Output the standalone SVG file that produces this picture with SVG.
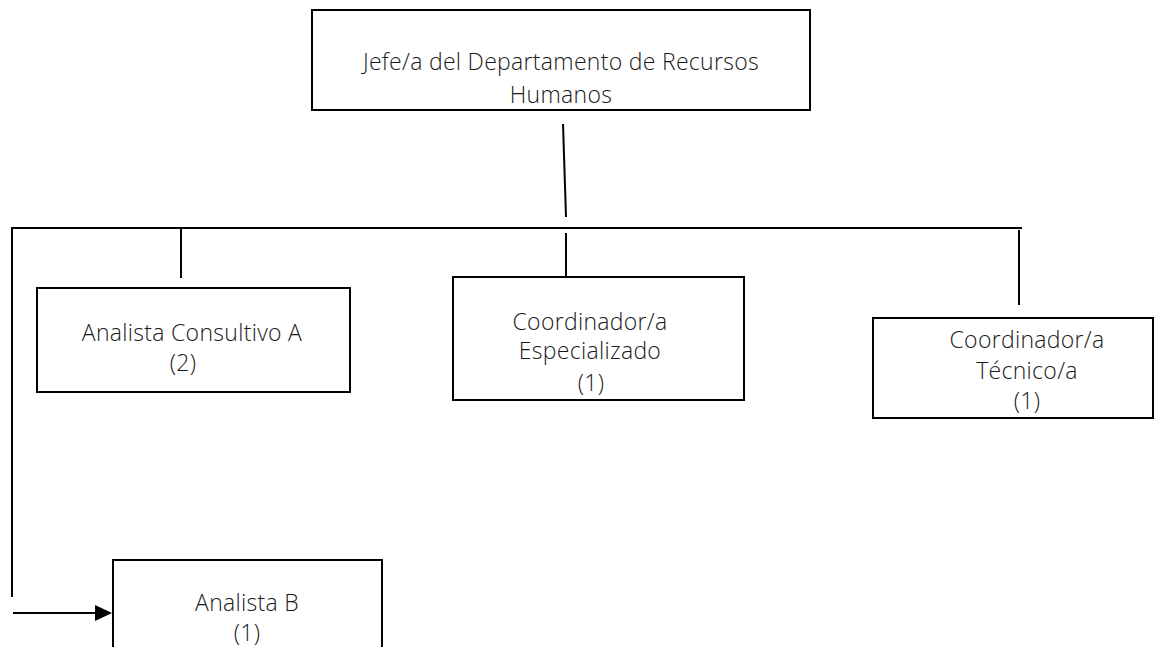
<svg xmlns="http://www.w3.org/2000/svg" width="1154" height="647" viewBox="0 0 1154 647">
<style>
.box{fill:#fff;stroke:#000;stroke-width:2}
.ln{stroke:#000;stroke-width:2;fill:none}
text{font-family:"Open Sans","Noto Sans",sans-serif;font-size:23px;letter-spacing:0.3px;font-weight:300;fill:#1a1a1a;text-anchor:middle}
</style>
<rect width="1154" height="647" fill="#fff"/>
<g id="connectors">
<line class="ln" x1="563" y1="124" x2="566" y2="217"/>
<line class="ln" x1="11" y1="228" x2="1022" y2="228"/>
<line class="ln" x1="12" y1="227" x2="12" y2="597"/>
<line class="ln" x1="181" y1="228" x2="181" y2="278"/>
<line class="ln" x1="566" y1="233" x2="566" y2="280"/>
<line class="ln" x1="1019" y1="230" x2="1019" y2="305"/>
<path d="M13,613 L96,613" class="ln"/>
<path d="M95,605 L112,613 L95,621 z" fill="#000"/>
</g>
<g id="jefe">
<rect class="box" x="312" y="10" width="498" height="100"/>
<text x="561" y="70">Jefe/a del Departamento de Recursos</text>
<text x="561" y="103">Humanos</text>
</g>
<g id="analista-consultivo">
<rect class="box" x="37" y="288" width="313" height="104"/>
<text x="192" y="341">Analista Consultivo A</text>
<text x="183" y="371">(2)</text>
</g>
<g id="coord-especializado">
<rect class="box" x="453" y="277" width="291" height="123"/>
<text x="590" y="330">Coordinador/a</text>
<text x="590" y="359">Especializado</text>
<text x="591" y="391">(1)</text>
</g>
<g id="coord-tecnico">
<rect class="box" x="873" y="318" width="280" height="100"/>
<text x="1027" y="348">Coordinador/a</text>
<text x="1027" y="379">Técnico/a</text>
<text x="1027" y="409">(1)</text>
</g>
<g id="analista-b">
<rect class="box" x="113" y="560" width="269" height="100"/>
<text x="247" y="611">Analista B</text>
<text x="247" y="641">(1)</text>
</g>
</svg>
